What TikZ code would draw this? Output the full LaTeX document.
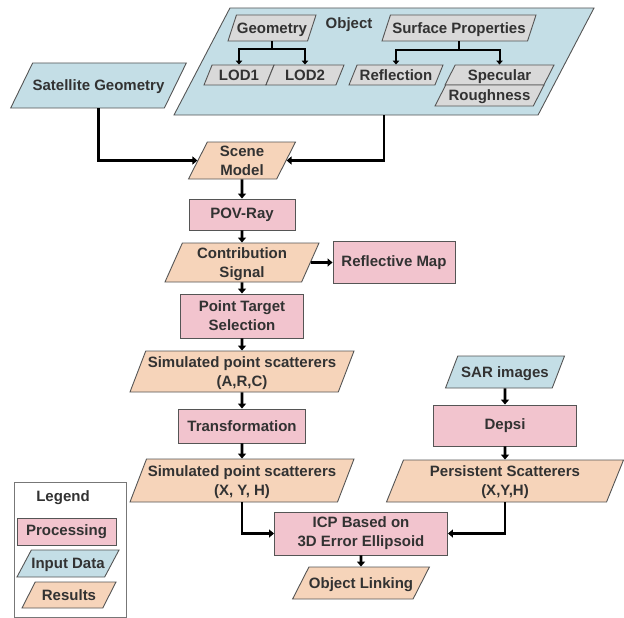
\documentclass[tikz,border=0pt]{standalone}
\usepackage{fontspec}
\setmainfont{Liberation Sans}
\usetikzlibrary{shapes.geometric, arrows.meta}
\definecolor{procfill}{RGB}{242,196,206}
\definecolor{inputfill}{RGB}{196,222,230}
\definecolor{resultfill}{RGB}{246,212,186}
\definecolor{partfill}{RGB}{217,217,217}
\definecolor{boxline}{RGB}{85,85,85}
\definecolor{labeltext}{RGB}{50,50,50}
\tikzset{
  font=\bfseries\fontsize{15}{19}\selectfont,
  lean/.code = {%
    \pgfmathsetmacro\leanright{180-#1}%
    \pgfkeysalso{/pgf/trapezium left angle=#1,
      /pgf/trapezium right angle/.expanded=\leanright}%
  },
  % trapezium takes its slant from the text height, so fix that height
  boxheight/.code 2 args = {%
    \pgfmathsetmacro\boxtop{#1/2+#2}%
    \pgfmathsetmacro\boxbottom{#1/2-#2}%
    \pgfkeysalso{/tikz/text height/.expanded=\boxtop pt,
      /tikz/text depth/.expanded=\boxbottom pt}%
  },
  oneline/.style = {boxheight={#1}{5.4}},
  twoline/.style = {boxheight={#1}{14.9}},
  box/.style = {
    draw=boxline,
    line width=0.9pt,
    text=labeltext,
    align=center,
    inner sep=0pt
  },
  procbox/.style = {box, rectangle, fill=procfill},
  slantbox/.style = {
    box,
    trapezium,
    trapezium stretches body=true,
    lean=66
  },
  inputbox/.style = {slantbox, fill=inputfill},
  resultbox/.style = {slantbox, fill=resultfill},
  partbox/.style = {slantbox, fill=partfill},
  link/.style = {
    draw=black,
    line width=2.6pt,
    -{Triangle[length=5pt, width=8pt]}
  },
  sublink/.style = {
    draw=black,
    line width=2pt,
    -{Triangle[length=4pt, width=6.5pt]}
  }
}

\begin{document}
\begin{tikzpicture}[x=1pt, y=-1pt]
  \useasboundingbox (0,0) rectangle (624,618);

  % object model
  \node[inputbox, lean=62.4, minimum width=420pt, boxheight={107}{0}] (object) at (384,61.5) {};
  \node[text=labeltext] (objtitle) at (349,25) {Object};
  \node[partbox, lean=72, minimum width=88pt, oneline=26] (geom) at (272,28) {Geometry};
  \node[partbox, lean=72, minimum width=154pt, oneline=26] (surface) at (459,28) {Surface Properties};
  \node[partbox, lean=68, minimum width=70pt, oneline=20] (lod1) at (239,75) {LOD1};
  \node[partbox, lean=68, minimum width=78pt, oneline=20] (lod2) at (305,75) {LOD2};
  \node[partbox, lean=68, minimum width=94pt, oneline=20] (reflection) at (396,75) {Reflection};
  \node[partbox, lean=63, minimum width=109pt, oneline=20] (specular) at (499.5,75) {Specular};
  \node[partbox, lean=63, minimum width=109pt, oneline=21] (roughness) at (489.5,95.5) {Roughness};

  \draw[sublink] (geom.south) -- ++(0,8) -| (lod1.north);
  \draw[sublink] (geom.south) -- ++(0,8) -| (lod2.north);
  \draw[sublink] (surface.south) -- ++(0,9) -| (reflection.north);
  \draw[sublink] (surface.south) -- ++(0,9) -| (specular.north);

  % simulation chain
  \node[inputbox, lean=64, minimum width=163pt, oneline=45] (satgeom) at (98.5,85.5) {Satellite Geometry};
  \node[resultbox, lean=63, minimum width=107pt, twoline=37] (scene) at (242,160.5) {Scene\\Model};
  \node[procbox, minimum width=106pt, minimum height=31pt] (povray) at (242,214.5) {POV-Ray};
  \node[resultbox, lean=66, minimum width=154pt, twoline=39] (contrib) at (242,262.5) {Contribution\\Signal};
  \node[procbox, minimum width=122pt, minimum height=42pt] (reflmap) at (394,262.5) {Reflective Map};
  \node[procbox, minimum width=123pt, minimum height=44pt] (pointsel) at (242,316) {Point Target\\Selection};
  \node[resultbox, lean=69, minimum width=224pt, twoline=41] (simarc) at (242,371.5) {Simulated point scatterers\\(A,R,C)};
  \node[procbox, minimum width=127pt, minimum height=34pt] (transform) at (242,426) {Transformation};
  \node[resultbox, lean=69, minimum width=224pt, twoline=43] (simxyh) at (242,480.5) {Simulated point scatterers\\(X, Y, H)};

  % real data chain
  \node[inputbox, lean=69, minimum width=119pt, oneline=32] (sarimg) at (505,372) {SAR images};
  \node[procbox, minimum width=143pt, minimum height=41pt] (depsi) at (505,425.5) {Depsi};
  \node[resultbox, lean=68, minimum width=237pt, twoline=42] (persist) at (505,481) {Persistent Scatterers\\(X,Y,H)};
  \node[procbox, minimum width=173pt, minimum height=43pt] (icp) at (361,533.5) {ICP Based on\\3D Error Ellipsoid};
  \node[resultbox, lean=63, minimum width=132pt, oneline=32] (objlink) at (361,583) {Object Linking};

  \draw[link] (satgeom.south) |- (scene.west);
  \draw[link] (object.south) |- (scene.east);
  \draw[link] (scene.south) -- (povray.north);
  \draw[link] (povray.south) -- (contrib.north);
  \draw[link] (contrib.east) -- (reflmap.west);
  \draw[link] (contrib.south) -- (pointsel.north);
  \draw[link] (pointsel.south) -- (simarc.north);
  \draw[link] (simarc.south) -- (transform.north);
  \draw[link] (transform.south) -- (simxyh.north);
  \draw[link] (sarimg.south) -- (depsi.north);
  \draw[link] (depsi.south) -- (persist.north);
  \draw[link] (simxyh.south) |- (icp.west);
  \draw[link] (persist.south) |- (icp.east);
  \draw[link] (icp.south) -- (objlink.north);

  % legend
  \node[draw=boxline!80, line width=0.9pt, minimum width=112pt, minimum height=135pt, inner sep=0pt] (legend) at (70,549.5) {};
  \node[text=labeltext] (legendtitle) at (63,498) {Legend};
  \node[procbox, minimum width=99pt, minimum height=27pt] (keyproc) at (66.5,531.5) {Processing};
  \node[inputbox, lean=62, minimum width=102pt, oneline=27] (keyinput) at (68,563.5) {Input Data};
  \node[resultbox, lean=63, minimum width=94pt, oneline=26] (keyresult) at (69,595) {Results};
\end{tikzpicture}
\end{document}
